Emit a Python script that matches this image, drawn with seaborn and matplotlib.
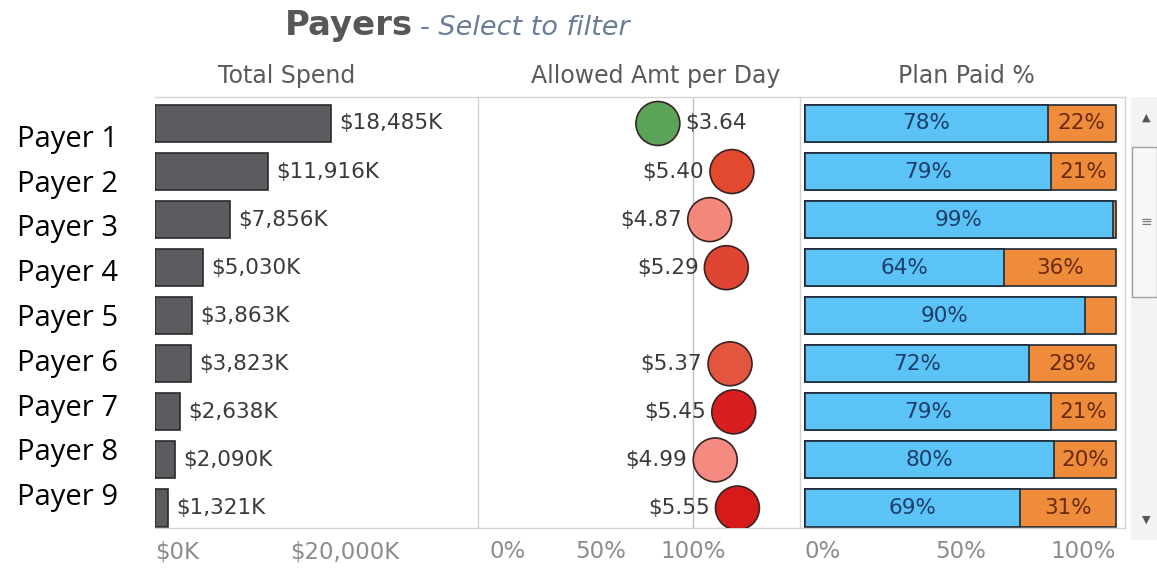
import numpy as np
import pandas as pd
import matplotlib
matplotlib.use("Agg")
import matplotlib.pyplot as plt
from matplotlib.patches import Rectangle
import seaborn as sns

# ---- data ----
payers = ["Payer 1", "Payer 2", "Payer 3", "Payer 4", "Payer 5",
          "Payer 6", "Payer 7", "Payer 8", "Payer 9"]
total_spend_k = [18485, 11916, 7856, 5030, 3863, 3823, 2638, 2090, 1321]
allowed_per_day = [3.64, 5.40, 4.87, 5.29, np.nan, 5.37, 5.45, 4.99, 5.55]
allowed_pct = [81, 121, 109, 118, np.nan, 120, 122, 112, 124]   # vs. average
circle_colors = ["#5ca35a", "#e2492f", "#f4877c", "#e04433", "#ffffff",
                 "#e3553f", "#d81e1e", "#f58b80", "#d61a1a"]
plan_paid = [78, 79, 99, 64, 90, 72, 79, 80, 69]
member_paid = [22, 21, 1, 36, 10, 28, 21, 20, 31]
member_labels = ["22%", "21%", "", "36%", "", "28%", "21%", "20%", "31%"]

spend_ticks = [0, 20000]
spend_ticklabels = ["$0K", "$20,000K"]
pct_ticks = [0, 50, 100]
pct_ticklabels = ["0%", "50%", "100%"]

df = pd.DataFrame({
    "payer": payers,
    "row": np.arange(len(payers)),
    "spend": total_spend_k,
    "per_day": allowed_per_day,
    "pct": allowed_pct,
    "paid": plan_paid,
    "member": member_paid,
})
df["total"] = df["paid"] + df["member"]

# ---- style ----
sns.set_style("white")
plt.rcParams["font.family"] = ["DejaVu Sans"]

W, H = 1157, 580
fig = plt.figure(figsize=(W / 100, H / 100), dpi=100)


def box(x0, x1, y0, y1):
    # pixel box -> figure fraction [left, bottom, width, height]
    return [x0 / W, 1 - y1 / H, (x1 - x0) / W, (y1 - y0) / H]


ax1 = fig.add_axes(box(155, 478, 97, 528))
ax2 = fig.add_axes(box(478, 800, 97, 528))
ax3 = fig.add_axes(box(800, 1125, 97, 528))
ax_lab = fig.add_axes(box(0, 150, 124.6, 527.4))

line_c = "#d4d4d4"
tick_c = "#8c8c8c"
txt_c = "#3a3a3a"
row_lim = (8.416, -0.551)
bar_w = 0.77

# ---- Total Spend ----
sns.barplot(data=df, x="spend", y="payer", orient="h", color="#5b5b60",
            edgecolor="#2a2a2a", linewidth=1.2, width=bar_w, saturation=1,
            errorbar=None, ax=ax1)
ax1.bar_label(ax1.containers[0], labels=[f"${v:,}K" for v in total_spend_k],
              padding=6, fontsize=15.5, color=txt_c)
ax1.set_xlim(0, 34000)
ax1.set_xticks(spend_ticks)
ax1.set_xticklabels(spend_ticklabels)
ax1.get_xticklabels()[0].set_ha("left")

# ---- Allowed Amt per Day ----
ax2.axvline(100, color="#b8c0cc", lw=1, zorder=0)
pts = df.dropna(subset=["pct"])
sns.scatterplot(data=pts, x="pct", y="row", hue="payer",
                palette=dict(zip(payers, circle_colors)), s=1000,
                edgecolor="#3a2323", linewidth=1.2, legend=False, ax=ax2, zorder=3)
for _, r in pts.iterrows():
    right = r["pct"] < 100
    ax2.annotate(f"${r['per_day']:.2f}", (r["pct"], r["row"]),
                 xytext=(20 if right else -20, 0), textcoords="offset points",
                 ha="left" if right else "right", va="center",
                 fontsize=15.5, color=txt_c)
ax2.set_xlim(-16.2, 157.8)
ax2.set_xticks(pct_ticks)
ax2.set_xticklabels(pct_ticklabels)

# ---- Plan Paid % (stacked) ----
sns.barplot(data=df, x="total", y="payer", orient="h", color="#ee8c3c",
            edgecolor="#1e2a36", linewidth=1.2, width=bar_w, saturation=1,
            errorbar=None, ax=ax3)
sns.barplot(data=df, x="paid", y="payer", orient="h", color="#5bc3f5",
            edgecolor="#1e2a36", linewidth=1.2, width=bar_w, saturation=1,
            errorbar=None, ax=ax3)
for i, (p, m, lab) in enumerate(zip(plan_paid, member_paid, member_labels)):
    ax3.text(p / 2, i, f"{p}%", ha="center", va="center",
             fontsize=15.5, color="#1e3d6b")
    if lab:
        ax3.text(p + m / 2, i, lab, ha="center", va="center",
                 fontsize=15.5, color="#6b2a0e")
ax3.set_xlim(-1.6, 102.9)
ax3.set_xticks(pct_ticks)
ax3.set_xticklabels(pct_ticklabels)
ax3.get_xticklabels()[0].set_ha("left")
ax3.get_xticklabels()[-1].set_ha("right")

# ---- shared axis cosmetics ----
for ax in (ax1, ax2, ax3):
    ax.set_ylim(*row_lim)
    ax.set_yticks([])
    ax.set_xlabel("")
    ax.set_ylabel("")
    for s in ax.spines.values():
        s.set_color(line_c)
        s.set_linewidth(1)
    ax.spines["left"].set_visible(False)
    ax.tick_params(axis="x", length=4, width=1, color=line_c,
                   labelsize=16.5, labelcolor=tick_c, pad=5)
    ax.set_facecolor("none")

# ---- payer names ----
ax_lab.set_xlim(0, 1)
ax_lab.set_ylim(8.5, -0.5)
ax_lab.axis("off")
for i, name in enumerate(payers):
    ax_lab.text(17 / 150, i, name, ha="left", va="baseline",
                fontsize=21, color="black", family=["Open Sans", "DejaVu Sans"])

# ---- titles ----
fig.text(285 / W, 1 - 35 / H, "Payers", fontsize=24.5, fontweight="bold",
         color="#575757", va="baseline")
fig.text(420 / W, 1 - 35 / H, "- Select to filter", fontsize=19.5, style="italic",
         color="#6b7d99", va="baseline")
for cx, lab in [(287, "Total Spend"), (656, "Allowed Amt per Day"),
                (966, "Plan Paid %")]:
    fig.text(cx / W, 1 - 83 / H, lab, fontsize=17, color="#5a5a5a",
             ha="center", va="baseline")

# ---- scrollbar decoration ----
fig.add_artist(Rectangle((1131 / W, 1 - 540 / H), 26 / W, 443 / H,
                         transform=fig.transFigure, facecolor="#f3f3f3",
                         edgecolor="none"))
fig.add_artist(Rectangle((1132 / W, 1 - 297 / H), 25 / W, 150 / H,
                         transform=fig.transFigure, facecolor="#f8f8f8",
                         edgecolor="#a0a0a0", lw=1))
fig.text(1146 / W, 1 - 118 / H, "▲", fontsize=8, color="#555555",
         ha="center", va="center")
fig.text(1146 / W, 1 - 520 / H, "▼", fontsize=8, color="#555555",
         ha="center", va="center")
fig.text(1146 / W, 1 - 222 / H, "≡", fontsize=10, color="#777777",
         ha="center", va="center")

fig.savefig("out.png", dpi=100)
